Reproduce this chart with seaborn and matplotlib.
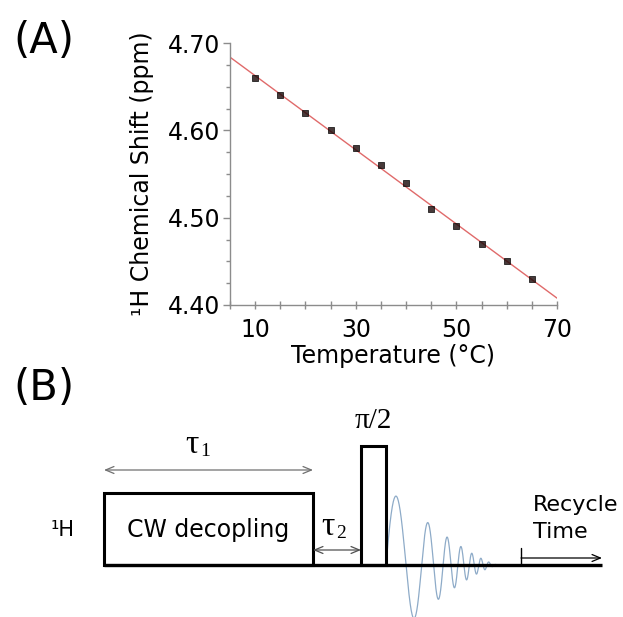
import numpy as np
import matplotlib
matplotlib.use("Agg")
import matplotlib.pyplot as plt
from matplotlib.patches import Rectangle
from matplotlib.ticker import MultipleLocator, FormatStrFormatter
import seaborn as sns

# (A) 1H chemical shift of water vs temperature
temperatures = [10, 15, 20, 25, 30, 35, 40, 45, 50, 55, 60, 65]
shifts = [4.66, 4.64, 4.62, 4.60, 4.58, 4.56, 4.54, 4.51, 4.49, 4.47, 4.45, 4.43]
x_ticks = [10, 30, 50, 70]
y_ticks = [4.40, 4.50, 4.60, 4.70]

# (B) pulse sequence timing (arbitrary units, baseline at 0)
seq_start = 104
cw_end = 313
pulse_start = 361
pulse_end = 386
recycle_start = 521
seq_end = 602
cw_level = 72
pulse_level = 119
fid_length = 112
fid_amp = 78

SERIF = "Liberation Serif"

sns.set_theme(style="ticks")
plt.rcParams["font.family"] = ["DejaVu Sans"]
plt.rcParams["text.color"] = "black"
plt.rcParams["axes.labelcolor"] = "black"

fig = plt.figure(figsize=(6.23, 6.17), dpi=100)

# ---- panel A ----
ax1 = fig.add_axes([230 / 623, 1 - 305 / 617, 327 / 623, 262 / 617])
ax1.set_xlim(5, 70)
ax1.set_ylim(4.40, 4.70)
sns.regplot(x=temperatures, y=shifts, ax=ax1, ci=None, truncate=False, marker="s",
            scatter_kws=dict(s=24, color="#1a0808", edgecolors="black", linewidths=0.6, zorder=3),
            line_kws=dict(color="#e06a6a", lw=1.0, zorder=2))
ax1.set_xticks(x_ticks)
ax1.set_yticks(y_ticks)
ax1.xaxis.set_minor_locator(MultipleLocator(5))
ax1.yaxis.set_minor_locator(MultipleLocator(0.025))
ax1.yaxis.set_major_formatter(FormatStrFormatter("%.2f"))
sns.despine(ax=ax1)
for s in ["left", "bottom"]:
    ax1.spines[s].set_color("#8c8c8c")
    ax1.spines[s].set_linewidth(1.0)
ax1.tick_params(axis="both", which="both", colors="#8c8c8c", labelcolor="black", labelsize=17, width=1)
ax1.tick_params(axis="y", which="major", direction="out", length=5, pad=2)
ax1.tick_params(axis="y", which="minor", direction="out", length=3)
ax1.tick_params(axis="x", which="both", direction="inout", length=6, pad=6)
ax1.set_xlabel("Temperature (°C)", fontsize=17, labelpad=2)
ax1.set_ylabel("¹H Chemical Shift (ppm)", fontsize=17, labelpad=10)

fig.text(13 / 623, 1 - 41 / 617, "(A)", fontsize=30, va="center", ha="left")
fig.text(13 / 623, 1 - 388 / 617, "(B)", fontsize=30, va="center", ha="left")

# ---- panel B ----
ax2 = fig.add_axes([0, 0, 1, 277 / 617])
ax2.set_xlim(0, 623)
ax2.set_ylim(-52, 225)
ax2.axis("off")

# free induction decay after the pulse
t = np.linspace(0, fid_length, 800)
cycles = 0.02356 * t + 3.516e-6 * t ** 3
env = fid_amp * (1 - t / fid_length) ** 1.3
ax2.plot(pulse_end + t, env * np.sin(2 * np.pi * cycles), color="#8eabc8", lw=0.9, zorder=1)

ax2.plot([seq_start, seq_end], [0, 0], color="black", lw=2.4, solid_capstyle="butt", zorder=3)
ax2.add_patch(Rectangle((seq_start, 0), cw_end - seq_start, cw_level, fill=False,
                        ec="black", lw=2.2, joinstyle="miter", zorder=3))
ax2.add_patch(Rectangle((pulse_start, 0), pulse_end - pulse_start, pulse_level, fill=False,
                        ec="black", lw=2.2, joinstyle="miter", zorder=3))


def span_arrow(x0, x1, y, style, color):
    ax2.annotate("", xy=(x1, y), xytext=(x0, y),
                 arrowprops=dict(arrowstyle=style + ",head_length=0.6,head_width=0.25",
                                 color=color, lw=0.9, shrinkA=0, shrinkB=0, mutation_scale=10))


def tau_label(x, y, sub):
    ax2.text(x, y, "τ", family=SERIF, fontsize=24, ha="center", va="center")
    ax2.annotate(sub, (x, y), xytext=(6, -5), textcoords="offset points",
                 family=SERIF, fontsize=14, ha="left", va="center")


span_arrow(seq_start, cw_end, 95, "<->", "#707070")
span_arrow(cw_end, pulse_start, 15, "<->", "#505050")
ax2.plot([recycle_start, recycle_start], [0, 17], color="black", lw=1.0)
span_arrow(recycle_start, seq_end, 7, "->", "black")

tau_label(192, 120, "1")
tau_label(328, 38, "2")
ax2.text((pulse_start + pulse_end) / 2, 144, "π/2", family=SERIF, fontsize=21, ha="center", va="center")
ax2.text((seq_start + cw_end) / 2, 35, "CW decopling", fontsize=17, ha="center", va="center")
ax2.text(63, 35, "¹H", fontsize=15, ha="center", va="center")
ax2.text(533, 60, "Recycle", fontsize=16, ha="left", va="center")
ax2.text(533, 33, "Time", fontsize=16, ha="left", va="center")

fig.savefig("out.png", dpi=100)
